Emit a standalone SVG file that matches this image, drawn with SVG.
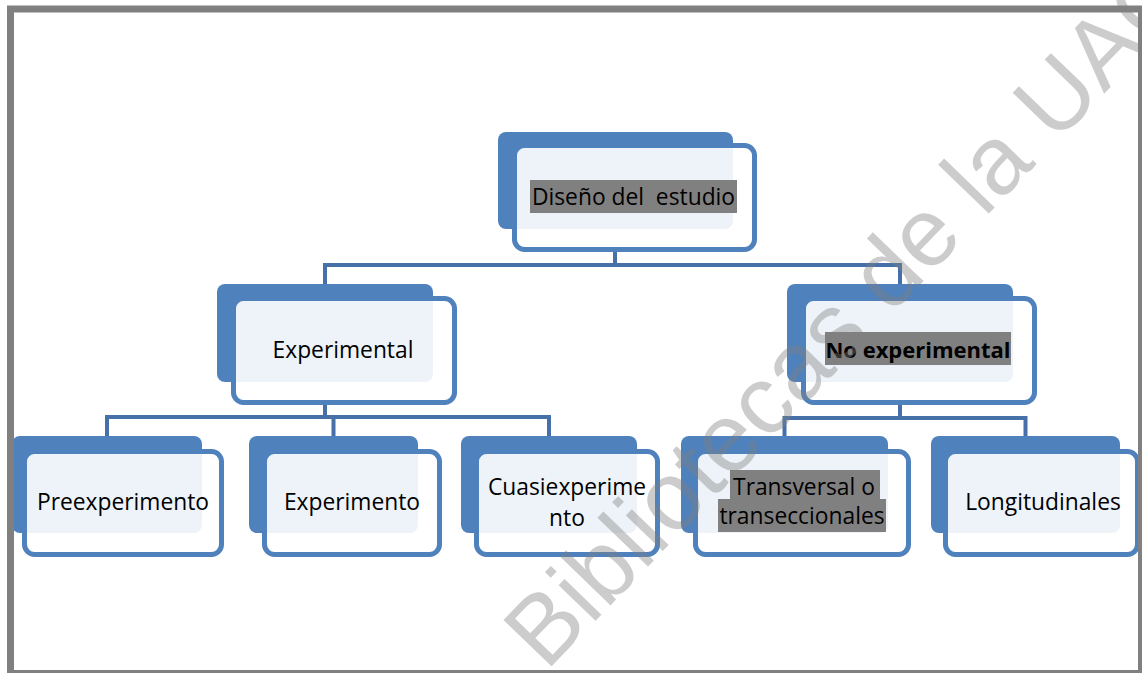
<svg xmlns="http://www.w3.org/2000/svg" width="1142" height="673" viewBox="0 0 1142 673">
<style>
.back{fill:#4f81bd}
.front{fill:#ffffff;fill-opacity:0.9;stroke:#4f81bd;stroke-width:5}
.conn{fill:none;stroke:#4571a8;stroke-width:4;stroke-linejoin:miter}
.hl{fill:#808080}
.t{font-family:"Open Sans","Liberation Sans",sans-serif;font-size:22.8px;fill:#000;text-anchor:middle;white-space:pre}
.b{font-weight:bold;font-size:22px}
.wm{font-family:"Liberation Sans",Arial,sans-serif;font-size:97px;fill:#808080;fill-opacity:0.4}
</style>
<rect x="0" y="0" width="1142" height="673" fill="#ffffff"/>
<g id="connectors">
<path class="conn" d="M615,252 V265 M325,284 V265 H900 V284"/>
<path class="conn" d="M325,405 V417 M107,436 V417 H549 V436 M333.5,417 V436"/>
<path class="conn" d="M900,405 V418 M784.5,436 V418 H1025.5 V436"/>
</g>
<g id="n-diseno">
<rect class="back" x="498" y="132" width="235" height="97" rx="8"/>
<rect class="front" x="514.5" y="145.5" width="240" height="104" rx="10"/>
<rect class="hl" x="530" y="180" width="207" height="33"/>
<text class="t" x="633.5" y="205">Diseño del  estudio</text>
</g>
<g id="n-experimental">
<rect class="back" x="217" y="284" width="216" height="98" rx="8"/>
<rect class="front" x="233.5" y="298.5" width="221" height="104" rx="10"/>
<text class="t" x="343" y="358">Experimental</text>
</g>
<g id="n-noexperimental">
<rect class="back" x="787" y="284" width="226" height="98" rx="8"/>
<rect class="front" x="803.5" y="298.5" width="231" height="104" rx="10"/>
<rect class="hl" x="825" y="332" width="186" height="33"/>
<text class="t b" x="918" y="358">No experimental</text>
</g>
<g id="n-preexperimento">
<rect class="back" x="12" y="436" width="190" height="97" rx="8"/>
<rect class="front" x="24.5" y="451.5" width="197" height="103" rx="10"/>
<text class="t" x="123" y="510">Preexperimento</text>
</g>
<g id="n-experimento">
<rect class="back" x="249" y="436" width="169" height="97" rx="8"/>
<rect class="front" x="264.5" y="451.5" width="175" height="103" rx="10"/>
<text class="t" x="352" y="510">Experimento</text>
</g>
<g id="n-cuasi">
<rect class="back" x="461" y="436" width="176" height="97" rx="8"/>
<rect class="front" x="476.5" y="451.5" width="181" height="103" rx="10"/>
<text class="t" x="567" y="495">Cuasiexperime</text>
<text class="t" x="567" y="526">nto</text>
</g>
<g id="n-transversal">
<rect class="back" x="681" y="436" width="207" height="97" rx="8"/>
<rect class="front" x="695.5" y="451.5" width="213" height="103" rx="10"/>
<rect class="hl" x="730" y="470" width="150" height="30"/>
<rect class="hl" x="718" y="499" width="168" height="33"/>
<text class="t" x="804" y="495">Transversal o</text>
<text class="t" x="802" y="524">transeccionales</text>
</g>
<g id="n-longitudinales">
<rect class="back" x="931" y="436" width="189" height="97" rx="8"/>
<rect class="front" x="945.5" y="451.5" width="192" height="103" rx="10"/>
<text class="t" x="1043" y="510">Longitudinales</text>
</g>
<rect x="10.5" y="9" width="1131" height="664.5" fill="none" stroke="#808080" stroke-width="7"/>
<text class="wm" transform="translate(546,672) rotate(-46)">Bibliotecas de la UAQ</text>
</svg>
